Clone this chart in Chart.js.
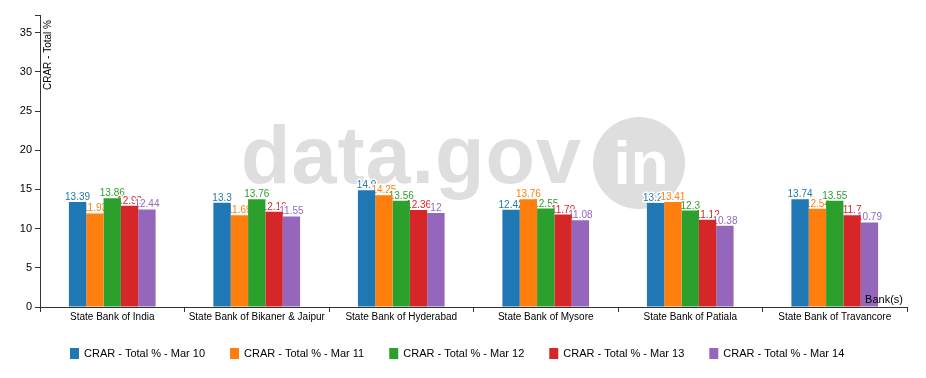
<!DOCTYPE html>
<html>
<head>
<meta charset="utf-8">
<script src="https://cdn.jsdelivr.net/npm/chart.js@4/dist/chart.umd.min.js"></script>
<style>
  html, body { margin: 0; padding: 0; background: #fff; }
  #wrap { width: 926px; height: 378px; position: relative; }
</style>
</head>
<body>
<div id="wrap"><canvas id="crarChart"></canvas></div>
<script>
// Data
const banks = [
    "State Bank of India",
    "State Bank of Bikaner & Jaipur",
    "State Bank of Hyderabad",
    "State Bank of Mysore",
    "State Bank of Patiala",
    "State Bank of Travancore",
];
const seriesNames = [
    "CRAR - Total % - Mar 10",
    "CRAR - Total % - Mar 11",
    "CRAR - Total % - Mar 12",
    "CRAR - Total % - Mar 13",
    "CRAR - Total % - Mar 14",
];
const mar10 = [13.39, 13.3, 14.9, 12.42, 13.26, 13.74];
const mar11 = [11.93, 11.69, 14.25, 13.76, 13.41, 12.54];
const mar12 = [13.86, 13.76, 13.56, 12.55, 12.3, 13.55];
const mar13 = [12.92, 12.16, 12.36, 11.79, 11.12, 11.7];
const mar14 = [12.44, 11.55, 12, 11.08, 10.38, 10.79];
const yTicks = [0, 5, 10, 15, 20, 25, 30, 35];

const colors = ["#1f77b4", "#ff7f0e", "#2ca02c", "#d62728", "#9467bd"];
const FONT = "'Liberation Sans', Arial, sans-serif";
const allValues = [mar10, mar11, mar12, mar13, mar14];
const yMax = Math.max(...allValues.flat()) * 2.5;

// grey watermark behind the bars, then value labels (bars cover them)
const backdrop = {
    id: "backdrop",
    beforeDatasetsDraw(chart) {
        const ctx = chart.ctx;
        ctx.save();
        ctx.fillStyle = "#dedede";
        ctx.font = "bold 81px " + FONT;
        ctx.textBaseline = "alphabetic";
        ctx.letterSpacing = "1px";
        ctx.fillText("data.gov", 241, 183);
        ctx.letterSpacing = "0px";
        ctx.beginPath();
        ctx.arc(639, 163, 46, 0, Math.PI * 2);
        ctx.fill();
        ctx.fillStyle = "#fff";
        ctx.font = "bold 62px " + FONT;
        ctx.textAlign = "center";
        ctx.fillText("in", 641, 184);

        ctx.font = "10px " + FONT;
        ctx.textAlign = "center";
        ctx.lineJoin = "round";
        chart.data.datasets.forEach((ds, i) => {
            const meta = chart.getDatasetMeta(i);
            meta.data.forEach((bar, j) => {
                const txt = String(ds.data[j]);
                ctx.lineWidth = 3;
                ctx.strokeStyle = "#fff";
                ctx.strokeText(txt, bar.x, bar.y - 2);
                ctx.fillStyle = colors[i];
                ctx.fillText(txt, bar.x, bar.y - 2);
            });
        });
        ctx.restore();
    },
    afterDraw(chart) {
        const { ctx, chartArea } = chart;
        ctx.save();
        ctx.strokeStyle = "#333";
        ctx.lineWidth = 1;
        ctx.beginPath();
        // outer tick at the top of the value axis
        ctx.moveTo(chartArea.left - 5, chartArea.top + 0.5);
        ctx.lineTo(chartArea.left + 0.5, chartArea.top + 0.5);
        ctx.stroke();
        // axis titles
        ctx.fillStyle = "#000";
        ctx.font = "11px " + FONT;
        ctx.textAlign = "right";
        ctx.textBaseline = "alphabetic";
        ctx.fillText("Bank(s)", chartArea.right - 4, chartArea.bottom - 4);
        ctx.save();
        ctx.font = "10px " + FONT;
        ctx.translate(chartArea.left + 11, chartArea.top + 5);
        ctx.rotate(-Math.PI / 2);
        ctx.fillText("CRAR - Total %", 0, 0);
        ctx.restore();

        // legend row
        ctx.textAlign = "left";
        ctx.textBaseline = "middle";
        let x = 70;
        const y = 353;
        chart.data.datasets.forEach((ds, i) => {
            ctx.fillStyle = colors[i];
            ctx.fillRect(x, y - 5, 9, 11);
            ctx.fillStyle = "#000";
            ctx.fillText(ds.label, x + 14, y + 1);
            x += 14 + ctx.measureText(ds.label).width + 25;
        });
        ctx.restore();
    },
};

const ctx = document.getElementById("crarChart").getContext("2d");
new Chart(ctx, {
    type: "bar",
    data: {
        labels: banks,
        datasets: seriesNames.map((name, i) => ({
            label: name,
            data: allValues[i],
            backgroundColor: colors[i],
            borderWidth: 0,
            categoryPercentage: 0.6,
            barPercentage: 1,
        })),
    },
    options: {
        responsive: true,
        maintainAspectRatio: false,
        animation: false,
        layout: { padding: { top: 15, right: 19, bottom: 41, left: 0 } },
        scales: {
            x: {
                grid: { offset: true, drawOnChartArea: false, tickLength: 5, color: "#333" },
                border: { color: "#333" },
                ticks: {
                    color: "#000",
                    font: { family: FONT, size: 10 },
                    maxRotation: 0,
                    autoSkip: false,
                    padding: -1,
                },
                afterFit(scale) { scale.height = 30; },
            },
            y: {
                min: 0,
                max: yMax,
                grid: { drawOnChartArea: false, tickLength: 5, color: "#333" },
                border: { color: "#333" },
                ticks: { color: "#000", font: { family: FONT, size: 11 }, padding: 3 },
                afterBuildTicks(scale) {
                    scale.ticks = yTicks.map((v) => ({ value: v }));
                },
                afterFit(scale) { scale.width = 40; },
            },
        },
        plugins: {
            legend: { display: false },
            tooltip: { enabled: false },
        },
    },
    plugins: [backdrop],
});
</script>
</body>
</html>
